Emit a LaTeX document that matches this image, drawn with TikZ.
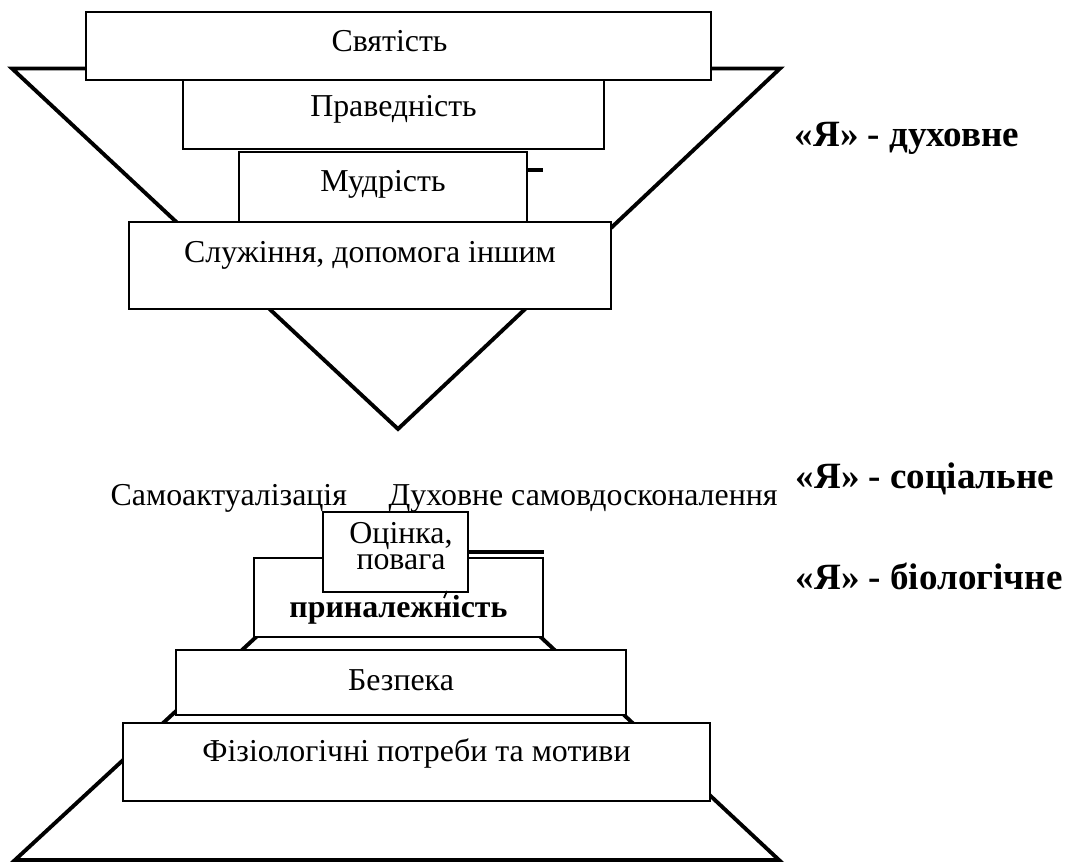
\documentclass[tikz,border=0pt]{standalone}
\usepackage{fontspec}
\setmainfont{Liberation Serif}
\begin{document}
\begin{tikzpicture}[
  every node/.style={font=\fontsize{9.07}{10}\selectfont},
  tier/.style={draw, rectangle, fill=white, line width=0.4pt, inner sep=0pt},
  tiertxt/.style={anchor=base, inner sep=0pt},
  selflbl/.style={anchor=base west, inner sep=0pt, font=\fontsize{10.55}{12}\selectfont\bfseries},
  thickline/.style={line width=1.1pt}]
\useasboundingbox (0,0) rectangle (10.65,8.63);

% Spiritual triangle
\draw[thickline] (0.12,7.945) -- (7.80,7.945) -- (3.98,4.34) -- cycle;

% Spiritual tiers
\node[tier, minimum width=4.21cm, minimum height=0.69cm] (pravedn) at (3.935,7.485) {};
\node[tier, minimum width=6.25cm, minimum height=0.68cm] (svyat) at (3.985,8.17) {};
\node[tier, minimum width=2.88cm, minimum height=0.70cm] (mudr) at (3.83,6.76) {};
\node[tier, minimum width=4.82cm, minimum height=0.87cm] (sluzh) at (3.70,5.975) {};

\node[tiertxt] (svyatT) at ([xshift=-0.09cm, yshift=-0.40cm]svyat.north) {Святість};
\node[tiertxt] (pravednT) at ([yshift=-0.37cm]pravedn.north) {Праведність};
\node[tiertxt] (mudrT) at ([yshift=-0.40cm]mudr.north) {Мудрість};
\node[tiertxt] (sluzhT) at ([yshift=-0.41cm]sluzh.north) {Служіння, допомога іншим};

% Tick
\draw[line width=1pt] ([yshift=0.17cm]mudr.east) -- ++(0.15,0);

% Biological / social pyramid
\draw[thickline] (0.15,0.03) -- (7.79,0.03) -- (4.37,3.23) -- (3.61,3.23) -- cycle;

\node[tier, minimum width=5.87cm, minimum height=0.78cm] (fiziol) at (4.165,1.01) {};
\node[tier, minimum width=4.50cm, minimum height=0.65cm] (bezpeka) at (4.01,1.805) {};
\node[tier, minimum width=2.89cm, minimum height=0.79cm] (prynal) at (3.985,2.655) {};
\node[tier, minimum width=1.45cm, minimum height=0.80cm] (ocinka) at (3.955,3.11) {};

\node[tiertxt] (fiziolT) at ([yshift=-0.39cm]fiziol.north) {Фізіологічні потреби та мотиви};
\node[tiertxt] (bezpekaT) at ([yshift=-0.41cm]bezpeka.north) {Безпека};
\node[tiertxt, font=\fontsize{9.07}{10}\selectfont\bfseries] (prynalT) at ([yshift=-0.60cm]prynal.north) {приналежність};
\node[tiertxt] (ocinkaA) at ([xshift=0.055cm, yshift=-0.32cm]ocinka.north) {Оцінка,};
\node[tiertxt] (ocinkaB) at ([xshift=0.055cm, yshift=-0.58cm]ocinka.north) {повага};

\draw[thickline] (ocinka.east) -- (ocinka.east -| prynal.east);
\draw[line width=0.5pt] (4.44,2.65) -- (4.47,2.72);

% Free captions
\node[tiertxt, anchor=base west] (samoakt) at (1.10,3.57) {Самоактуалізація};
\node[tiertxt, anchor=base west] (duhovn) at (3.88,3.57) {Духовне самовдосконалення};

\node[selflbl] (yaDuh) at (7.94,7.16) {«Я» - духовне};
\node[selflbl] (yaSoc) at (7.95,3.74) {«Я» - соціальне};
\node[selflbl] (yaBio) at (7.95,2.73) {«Я» - біологічне};
\end{tikzpicture}
\end{document}
